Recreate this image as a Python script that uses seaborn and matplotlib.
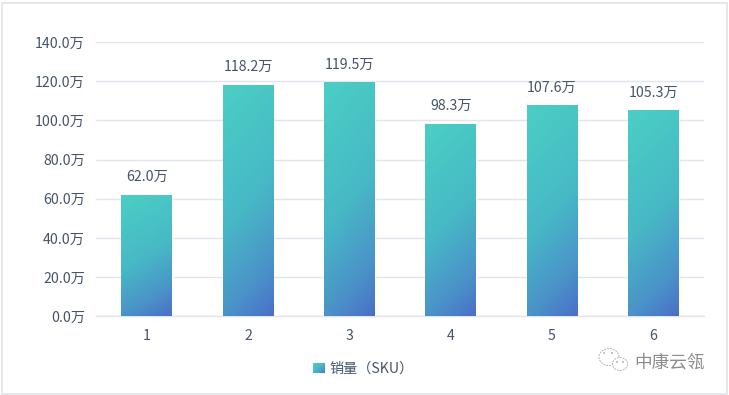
import numpy as np
import pandas as pd
import matplotlib
matplotlib.use("Agg")
import matplotlib.pyplot as plt
from matplotlib.colors import LinearSegmentedColormap
from matplotlib.patches import Patch, Rectangle, Ellipse
import seaborn as sns

categories = ["1", "2", "3", "4", "5", "6"]
sales = [62.0, 118.2, 119.5, 98.3, 107.6, 105.3]
y_ticks = [0, 20, 40, 60, 80, 100, 120, 140]
series_name = "销量（SKU）"
watermark = "中康云瓴"

W, H = 729, 395
TEXT = "#44546a"
GRID = "#e1e4ec"
FS = 10.2

sns.set_theme(style="white")
plt.rcParams["font.family"] = ["Noto Sans CJK SC", "DejaVu Sans"]

fig = plt.figure(figsize=(W / 100, H / 100), dpi=100, facecolor="white")
ax = fig.add_axes([96 / W, 1 - 316.3 / H, 608 / W, 274.3 / H])

df = pd.DataFrame({"cat": categories, "sales": sales})
sns.barplot(data=df, x="cat", y="sales", ax=ax, width=0.5, color="#48cfc6", saturation=1, zorder=3)

ax.set_xlim(-0.5, 5.5)
ax.set_ylim(0, 140)
ax.set_xlabel("")
ax.set_ylabel("")
ax.set_yticks(y_ticks)
ax.set_yticklabels([f"{v:.1f}万" for v in y_ticks])
ax.tick_params(axis="both", length=0, labelsize=FS, labelcolor=TEXT)
ax.tick_params(axis="x", pad=9.5)
ax.tick_params(axis="y", pad=8)
ax.grid(axis="y", color=GRID, linewidth=1, zorder=0)
ax.set_axisbelow(True)
for name, spine in ax.spines.items():
    spine.set_visible(name == "bottom")
ax.spines["bottom"].set_color(GRID)
ax.spines["bottom"].set_linewidth(1)

# diagonal gradient in each bar: mostly downward, slightly to the right
cmap = LinearSegmentedColormap.from_list(
    "bar", [(0, "#4bcfc4"), (0.5, "#47b9c6"), (0.8, "#4a94c8"), (1, "#4a6fc9")])
gx, gy = np.meshgrid(np.linspace(0, 1, 120), np.linspace(0, 1, 240))
grad = 0.2 * gx + 0.8 * gy
for bar, value in zip(ax.patches, sales):
    x0, w = bar.get_x(), bar.get_width()
    img = ax.imshow(grad, cmap=cmap, origin="upper", aspect="auto",
                    extent=(x0, x0 + w, 0, value), zorder=3.5, vmin=0, vmax=1)
    img.set_clip_path(bar)
    ax.annotate(f"{value:.1f}万", (x0 + w / 2, value), xytext=(0, 7.6), textcoords="offset points",
                ha="center", va="bottom", fontsize=FS, color=TEXT, zorder=5)
ax.set_xlim(-0.5, 5.5)
ax.set_ylim(0, 140)

# legend with the swatch overdrawn by the same gradient
leg = fig.legend(handles=[Patch(facecolor="#45a5c5", edgecolor="none", label=series_name)],
                 loc="center", bbox_to_anchor=(363 / W, 1 - 369 / H), frameon=False, fontsize=FS,
                 labelcolor=TEXT, handlelength=0.8, handleheight=0.8, handletextpad=0.35)
fig.canvas.draw()
box = leg.get_patches()[0].get_window_extent().transformed(fig.transFigure.inverted())
lax = fig.add_axes([box.x0, box.y0, box.width, box.height], zorder=10)
lax.imshow(0.5 * gx + 0.5 * gy, cmap=cmap, aspect="auto", vmin=0, vmax=1)
lax.axis("off")

# watermark
fig.text(634 / W, 1 - 362 / H, watermark, fontsize=12.7, color="#8c8c8c", ha="left", va="center")
for cx, cy, rw, rh in [(609, 357, 20, 17), (620, 364, 15, 13)]:
    fig.add_artist(Ellipse((cx / W, 1 - cy / H), rw / W, rh / H, transform=fig.transFigure,
                           facecolor="white", edgecolor="#b4b4b4", linewidth=0.7,
                           linestyle=(0, (2, 1))))
for dx, dy in [(604, 353), (612, 353), (617, 362), (623, 362)]:
    fig.add_artist(Ellipse((dx / W, 1 - dy / H), 1.6 / W, 1.6 / H, transform=fig.transFigure,
                           facecolor="#8c8c8c", edgecolor="none"))

# outer frame
fig.add_artist(Rectangle((1.5 / W, 1.5 / H), (W - 4) / W, (H - 4) / H, transform=fig.transFigure,
                         fill=False, edgecolor="#e3e6ea", linewidth=1.3))

fig.savefig("out.png", dpi=100)
